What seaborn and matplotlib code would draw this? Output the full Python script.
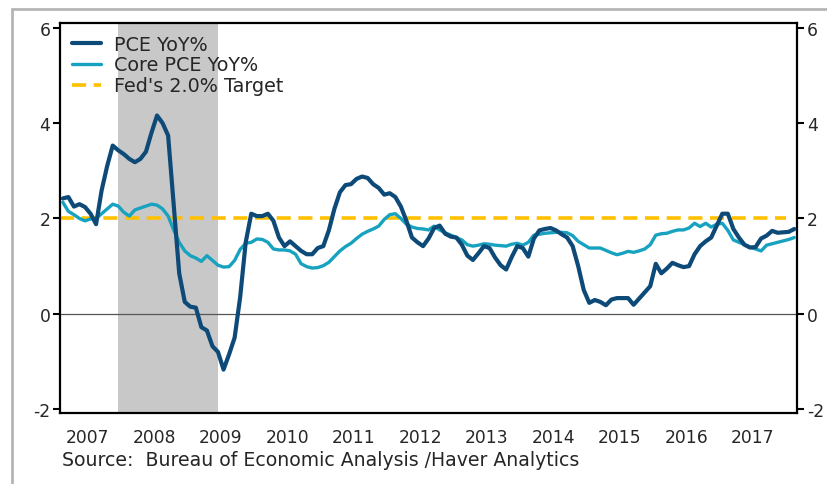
#%% import tools and libraries
import numpy as np
import pandas as pd
import seaborn as sb
import matplotlib.pyplot as plt
from matplotlib.lines import Line2D

#%% data (monthly, Feb 2007 - Feb 2018)
start_month = '2007-02'
n_months = 133

pce = [2.42, 2.45, 2.25, 2.30, 2.24, 2.10, 1.88, 2.59, 3.10, 3.53, 3.43,
       3.35, 3.25, 3.18, 3.25, 3.40, 3.80, 4.16, 4.00, 3.74, 2.30, 0.85, 0.25,
       0.15, 0.13, -0.28, -0.35, -0.68, -0.80, -1.17, -0.85, -0.50, 0.35, 1.50, 2.10,
       2.05, 2.05, 2.10, 1.95, 1.60, 1.42, 1.52, 1.42, 1.32, 1.25, 1.25, 1.38,
       1.42, 1.75, 2.20, 2.55, 2.70, 2.72, 2.83, 2.88, 2.85, 2.72, 2.64, 2.50,
       2.53, 2.45, 2.25, 1.95, 1.60, 1.50, 1.42, 1.58, 1.80, 1.85, 1.68, 1.62,
       1.60, 1.45, 1.22, 1.13, 1.27, 1.42, 1.38, 1.18, 1.02, 0.93, 1.19, 1.42,
       1.38, 1.20, 1.58, 1.75, 1.78, 1.80, 1.75, 1.67, 1.60, 1.42, 1.00, 0.50,
       0.23, 0.29, 0.25, 0.18, 0.30, 0.33, 0.33, 0.33, 0.19, 0.32, 0.45, 0.58,
       1.05, 0.85, 0.95, 1.07, 1.02, 0.98, 1.00, 1.25, 1.42, 1.52, 1.60, 1.85,
       2.10, 2.10, 1.78, 1.60, 1.45, 1.39, 1.40, 1.58, 1.64, 1.74, 1.70, 1.71,
       1.72, 1.78]

core_pce = [2.34, 2.15, 2.08, 2.00, 1.95, 1.99, 2.00, 2.10, 2.20, 2.30, 2.26,
            2.13, 2.05, 2.18, 2.22, 2.26, 2.30, 2.28, 2.20, 2.05, 1.76, 1.50, 1.32,
            1.22, 1.17, 1.10, 1.22, 1.12, 1.02, 0.98, 0.99, 1.12, 1.35, 1.48, 1.50,
            1.57, 1.56, 1.50, 1.36, 1.34, 1.34, 1.32, 1.25, 1.05, 0.99, 0.96, 0.97,
            1.01, 1.08, 1.20, 1.32, 1.41, 1.48, 1.58, 1.67, 1.73, 1.78, 1.84, 1.98,
            2.08, 2.10, 2.00, 1.88, 1.82, 1.79, 1.78, 1.76, 1.84, 1.76, 1.70, 1.65,
            1.60, 1.55, 1.45, 1.42, 1.44, 1.47, 1.46, 1.44, 1.43, 1.42, 1.46, 1.48,
            1.44, 1.50, 1.65, 1.67, 1.69, 1.70, 1.71, 1.71, 1.70, 1.64, 1.52, 1.45,
            1.38, 1.38, 1.38, 1.33, 1.28, 1.24, 1.27, 1.31, 1.29, 1.32, 1.36, 1.45,
            1.65, 1.68, 1.69, 1.73, 1.76, 1.76, 1.80, 1.90, 1.83, 1.90, 1.82, 1.88,
            1.90, 1.75, 1.55, 1.50, 1.45, 1.40, 1.36, 1.32, 1.44, 1.47, 1.50, 1.53,
            1.56, 1.60]

fed_target = 2.0
recession = ('2007-12', '2009-06')
years = list(range(2007, 2018))

#%% build dataframe, x as decimal year at mid-month
dates = pd.date_range(start_month, periods=n_months, freq='MS')
def dec_year(d):
    return d.year + (d.month - 0.5) / 12

df = pd.DataFrame({'t': [dec_year(d) for d in dates], 'PCE': pce, 'Core': core_pce})

#%% plot
sb.set_style('white')
plt.rcParams['font.family'] = ['DejaVu Sans']

fig = plt.figure(figsize=(8.27, 4.85), dpi=100)
ax = fig.add_axes([0.0726, 0.1464, 0.8911, 0.8041])

rec0 = dec_year(pd.Timestamp(recession[0]))
rec1 = dec_year(pd.Timestamp(recession[1]))
ax.axvspan(rec0, rec1, color='#c8c8c8', lw=0, zorder=0)
ax.axhline(0, color='#555555', lw=0.9, zorder=1)

sb.lineplot(data=df, x='t', y='PCE', ax=ax, color='#0d4a78', lw=3.0,
            label='PCE YoY%', zorder=4)
sb.lineplot(data=df, x='t', y='Core', ax=ax, color='#17a2c0', lw=2.4,
            label='Core PCE YoY%', zorder=3)
ax.plot([df['t'].iloc[0] - 0.05, 2018.0], [fed_target, fed_target], color='#ffc000',
        lw=2.6, dashes=(3.9, 2.1), label="Fed's 2.0% Target", zorder=2)

ax.set_xlim(2007.083, 2018.165)
ax.set_ylim(-2.08, 6.1)
ax.set_xlabel('')
ax.set_ylabel('')

quarters = np.arange(2007.25, 2018.01, 0.25)
ax.set_xticks(quarters)
ax.set_xticklabels([str(int(q)) if abs(q % 1 - 0.5) < 1e-6 else '' for q in quarters],
                   fontsize=12.3)
ax.set_yticks([-2, 0, 2, 4, 6])
ax.set_yticklabels(['-2', '0', '2', '4', '6'], fontsize=12.3)
ax.tick_params(axis='x', direction='out', length=7, width=1.2, pad=4, color='black')
ax.tick_params(axis='y', direction='out', length=5, width=1.5, pad=2, color='black',
               left=True, right=True, labelleft=True, labelright=True)

for s in ax.spines.values():
    s.set_color('black')
    s.set_linewidth(1.6)

ax.legend(loc='upper left', frameon=False, fontsize=13.8, handlelength=1.55,
          handletextpad=0.65, labelspacing=0.1, borderaxespad=0.2,
          bbox_to_anchor=(0.0, 1.0))

fig.text(0.075, 0.051, 'Source:  Bureau of Economic Analysis /Haver Analytics',
         fontsize=13.6, va='center', ha='left')

# outer grey frame
fig.add_artist(Line2D([0.0145, 1.0], [0.979, 0.979], color='#b5b5b5', lw=2))
fig.add_artist(Line2D([0.0145, 0.0145], [0.0, 0.979], color='#b5b5b5', lw=2))

plt.savefig('out.png', dpi=100)
